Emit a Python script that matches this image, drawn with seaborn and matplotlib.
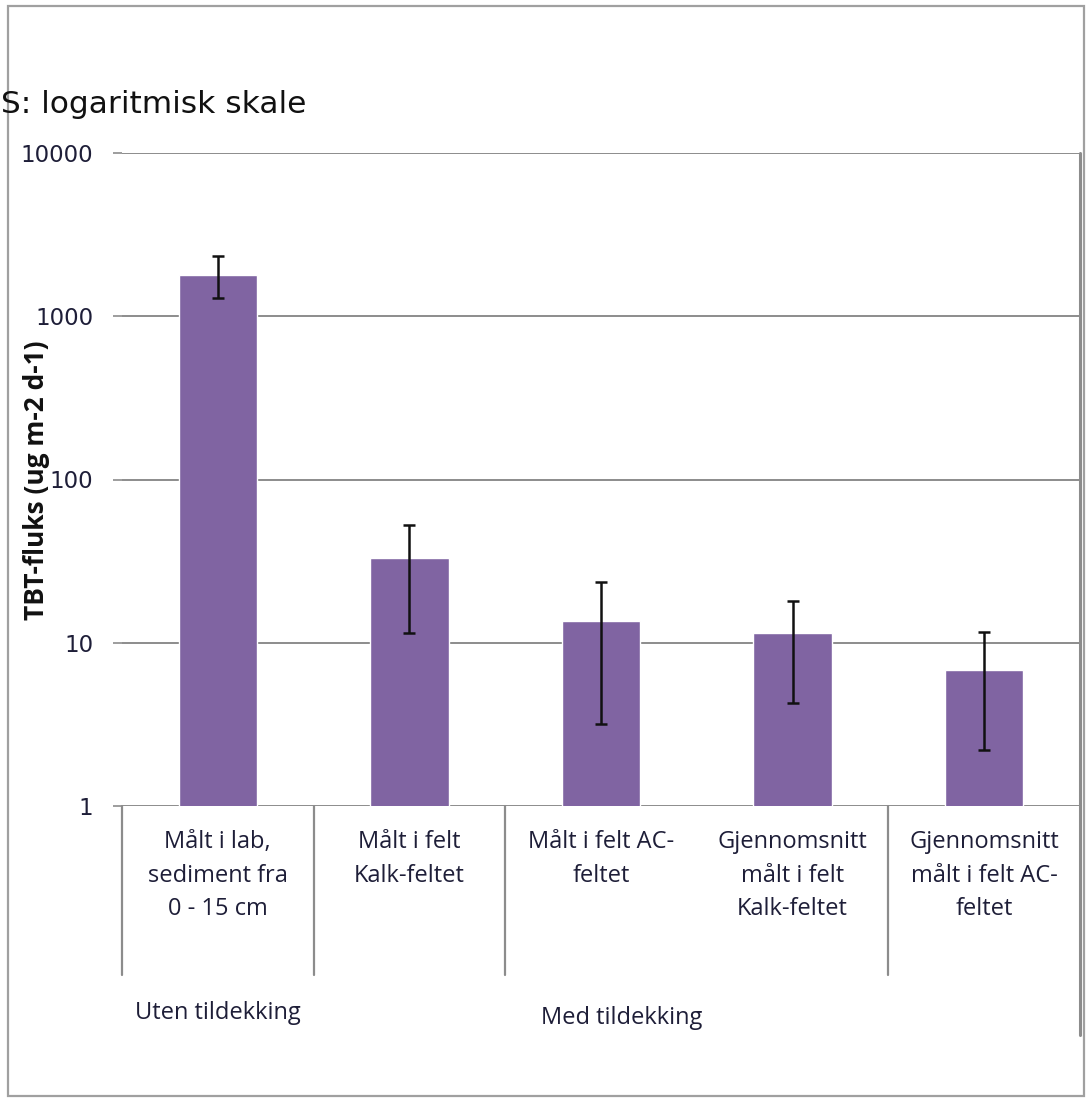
import matplotlib
matplotlib.use("Agg")
import matplotlib.pyplot as plt
import matplotlib.ticker as mticker
from matplotlib.patches import Rectangle
import seaborn as sns

# TBT flux per measurement setup (ug m-2 d-1), with lower/upper error bounds
categories = [
    "Målt i lab,\nsediment fra\n0 - 15 cm",
    "Målt i felt\nKalk-feltet",
    "Målt i felt AC-\nfeltet",
    "Gjennomsnitt\nmålt i felt\nKalk-feltet",
    "Gjennomsnitt\nmålt i felt AC-\nfeltet",
]
flux = [1800, 33, 13.5, 11.4, 6.8]
flux_low = [1300, 11.5, 3.2, 4.3, 2.2]
flux_high = [2330, 53, 23.5, 18, 11.6]

groups = ["Uten tildekking", "Med tildekking"]
group_pos = [0.0, 2.11]

y_ticks = [1, 10, 100, 1000, 10000]
y_tick_labels = ["1", "10", "100", "1000", "10000"]

sns.set_theme(style="white")
plt.rcParams["font.family"] = ["DejaVu Sans"]

W, H = 1086, 1102
fig = plt.figure(figsize=(W / 100, H / 100), dpi=100)
ax = fig.add_axes([122 / W, 1 - 806 / H, (1080 - 122) / W, (806 - 153) / H])

bar_color = "#8064A2"
grid_color = "#8C8C8C"
text_color = "#1E1E38"

sns.barplot(x=list(range(len(flux))), y=flux, color=bar_color, saturation=1,
            width=0.41, ax=ax, zorder=3)
ax.set_yscale("log")
ax.set_ylim(y_ticks[0], y_ticks[-1])
ax.set_xlim(-0.5, len(flux) - 0.5)

# asymmetric error bars from the bounds
yerr = [[m - lo for m, lo in zip(flux, flux_low)],
        [hi - m for m, hi in zip(flux, flux_high)]]
ax.errorbar(list(range(len(flux))), flux, yerr=yerr, fmt="none",
            ecolor="#111111", elinewidth=1.8, capsize=4.3, capthick=1.8,
            zorder=4)

# y axis: log ticks with plain labels, gridlines
ax.yaxis.set_major_locator(mticker.FixedLocator(y_ticks))
ax.yaxis.set_major_formatter(mticker.FixedFormatter(y_tick_labels))
ax.yaxis.set_minor_locator(mticker.NullLocator())
ax.grid(axis="y", color=grid_color, linewidth=1.4, zorder=0)
ax.grid(axis="x", visible=False)
ax.tick_params(axis="y", which="major", left=True, length=6.5, width=1.2,
               color=grid_color, pad=14, labelsize=16.5, labelcolor=text_color)
for s in ax.spines.values():
    s.set_visible(False)
ax.set_ylabel("TBT-fluks (ug m-2 d-1)", fontsize=19, fontweight="bold",
              family=["Open Sans", "DejaVu Sans"], color="#111111",
              labelpad=0)
ax.yaxis.set_label_coords(-(122 - 50) / (1080 - 122), (806 - 480) / (806 - 153))

# x axis: multi-line category labels
ax.set_xticks(list(range(len(flux))))
ax.set_xticklabels(categories, fontsize=17, family=["Open Sans", "DejaVu Sans"],
                   color=text_color, linespacing=1.55, va="top")
ax.tick_params(axis="x", length=0, pad=17)
ax.set_xlabel("")

# category separators below the axis
trans = ax.get_xaxis_transform()
ax_h = 806 - 153
sep_bottom = -(975 - 806) / ax_h
for xs in [-0.5, 0.5, 1.5, 3.5]:
    ax.plot([xs, xs], [0, sep_bottom], transform=trans, color=grid_color,
            linewidth=1.6, clip_on=False, zorder=2)
ax.plot([4.5, 4.5], [1, -(1035 - 806) / ax_h], transform=trans,
        color=grid_color, linewidth=2.2, clip_on=False, zorder=2)

# outer group labels
for g, gx, gy in zip(groups, group_pos, [1013, 1018]):
    ax.text(gx, -(gy - 806) / ax_h, g, transform=trans, ha="center",
            va="center", fontsize=17, family=["Open Sans", "DejaVu Sans"],
            color=text_color)

# note on the scale, top left
fig.text(1 / W, 1 - 113 / H, "S: logaritmisk skale", fontsize=22.5,
         ha="left", va="baseline", color="#111111")

# chart frame
fig.patches.append(Rectangle((8 / W, 1 - 1096 / H), (1084 - 8) / W,
                             (1096 - 6) / H, transform=fig.transFigure,
                             fill=False, edgecolor="#A0A0A0", linewidth=1.6))

fig.savefig("out.png", dpi=100)
